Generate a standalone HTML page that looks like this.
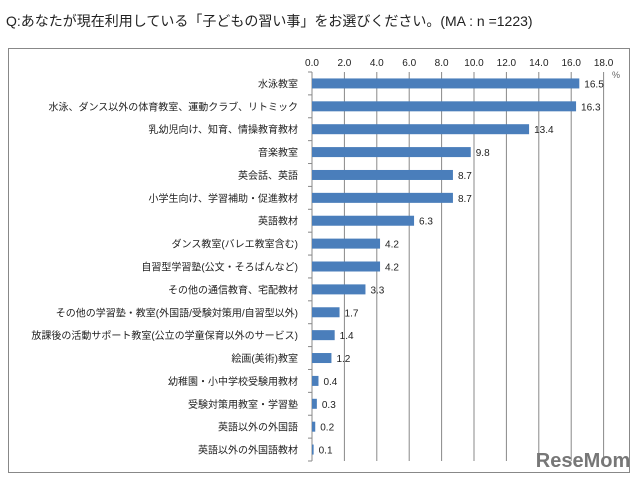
<!DOCTYPE html><html><head><meta charset="utf-8"><style>body{margin:0;background:#fff}svg text{font-family:"Liberation Sans","Noto Sans CJK JP",sans-serif}</style></head><body>
<svg width="640" height="485" xmlns="http://www.w3.org/2000/svg">
<text x="6" y="26" font-size="14" fill="#222">Q:あなたが現在利用している「子どもの習い事」をお選びください。(MA : n =1223)</text>
<rect x="8.5" y="48.5" width="621" height="424" fill="#fff" stroke="#888"/>
<g id="grid" stroke="#888" stroke-width="1"></g>
<g id="c"></g>
<text x="612" y="78" font-size="9" fill="#666">%</text>
<text x="583" y="467" font-size="20" font-weight="bold" fill="#777" text-anchor="middle">ReseMom</text>
<script>
(function(){
var g=document.getElementById('c'),gr=document.getElementById('grid'),ns="http://www.w3.org/2000/svg";
function el(p,t,a,tx){var e=document.createElementNS(ns,t);for(var k in a)e.setAttribute(k,a[k]);if(tx!=null)e.textContent=tx;p.appendChild(e);return e;}
var x0=312,s=16.2,yt=72,yb=461;
for(var i=0;i<=9;i++){var x=x0+i*2*s;el(gr,'line',{x1:x,y1:yt,x2:x,y2:yb});el(g,'text',{x:x,y:66,'font-size':10,'text-anchor':'middle',fill:'#222'},(i*2).toFixed(1));}
var d=[["水泳教室",16.5],["水泳、ダンス以外の体育教室、運動クラブ、リトミック",16.3],["乳幼児向け、知育、情操教育教材",13.4],["音楽教室",9.8],["英会話、英語",8.7],["小学生向け、学習補助・促進教材",8.7],["英語教材",6.3],["ダンス教室(バレエ教室含む)",4.2],["自習型学習塾(公文・そろばんなど)",4.2],["その他の通信教育、宅配教材",3.3],["その他の学習塾・教室(外国語/受験対策用/自習型以外)",1.7],["放課後の活動サポート教室(公立の学童保育以外のサービス)",1.4],["絵画(美術)教室",1.2],["幼稚園・小中学校受験用教材",0.4],["受験対策用教室・学習塾",0.3],["英語以外の外国語",0.2],["英語以外の外国語教材",0.1]];
var sp=(yb-yt)/17;
el(gr,'line',{x1:x0-4,y1:yt,x2:x0,y2:yt});
d.forEach(function(r,i){var yc=yt+sp*(i+0.5);el(gr,'line',{x1:x0-4,y1:yt+sp*(i+1),x2:x0,y2:yt+sp*(i+1)});
el(g,'rect',{x:x0,y:yc-5,width:r[1]*s,height:10,fill:'#4a7ebb'});
el(g,'text',{x:298,y:yc+4,'font-size':10,'text-anchor':'end',fill:'#222'},r[0]);
el(g,'text',{x:x0+r[1]*s+5,y:yc+4,'font-size':10,fill:'#222'},r[1].toFixed(1));});
})();
</script>
</svg></body></html>
